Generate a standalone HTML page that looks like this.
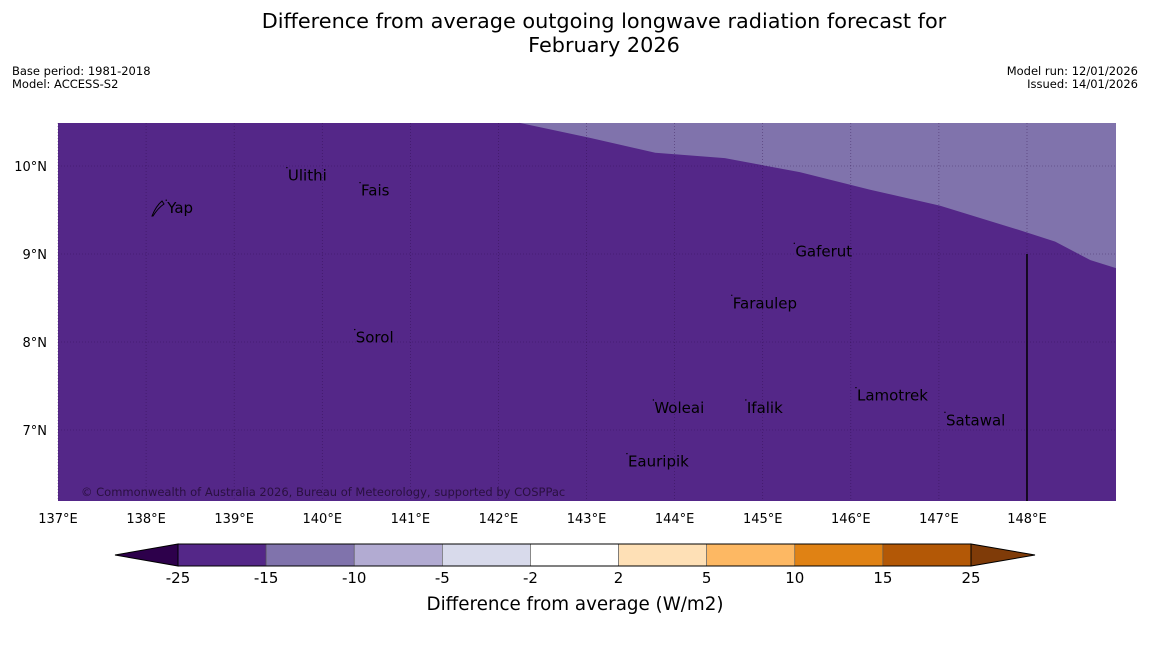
<!DOCTYPE html>
<html><head><meta charset="utf-8">
<style>
body{margin:0;background:#fff;font-family:"Liberation Sans","DejaVu Sans",sans-serif;}
svg text{font-family:"DejaVu Sans","Liberation Sans",sans-serif;}
</style></head>
<body>
<svg id="c" width="1150" height="644" xmlns="http://www.w3.org/2000/svg">
<text x="604" y="28" text-anchor="middle" font-size="20.8">Difference from average outgoing longwave radiation forecast for</text>
<text x="604" y="52" text-anchor="middle" font-size="20.8">February 2026</text>
<text x="12" y="75" font-size="11.5">Base period: 1981-2018</text>
<text x="12" y="88" font-size="11.5">Model: ACCESS-S2</text>
<text x="1138" y="75" font-size="11.5" text-anchor="end">Model run: 12/01/2026</text>
<text x="1138" y="88" font-size="11.5" text-anchor="end">Issued: 14/01/2026</text>
<g id="map"></g>
<g id="cbar"></g>
<text x="575" y="610" text-anchor="middle" font-size="18.3">Difference from average (W/m2)</text>
</svg>
<script>
const lonTicks=[137,138,139,140,141,142,143,144,145,146,147,148];
const latTicks=[7,8,9,10];
const boundLon=[142.24,143.04,143.78,144.57,145.42,146.22,147.01,147.92,148.32,148.72,149.01];
const boundLat=[10.49,10.32,10.15,10.09,9.93,9.73,9.55,9.27,9.14,8.93,8.84];
const places=["Yap","Ulithi","Fais","Gaferut","Faraulep","Sorol","Woleai","Ifalik","Lamotrek","Satawal","Eauripik"];
const placeLon=[138.24,139.61,140.44,145.37,144.66,140.38,143.77,144.82,146.07,147.08,143.47];
const placeLat=[9.52,9.89,9.72,9.03,8.44,8.05,7.25,7.25,7.39,7.11,6.64];
const cbLevels=[-25,-15,-10,-5,-2,2,5,10,15,25];
const cbColors=["#542788","#8073ac","#b2abd2","#d8daeb","#ffffff","#fee0b6","#fdb863","#e08214","#b35806"];
const cbUnder="#2d004b", cbOver="#7f3b08";

const NS="http://www.w3.org/2000/svg";
const X0=58,X1=1116,Y0=123,Y1=501;
const lonMin=137,lonMax=137+(X1-X0)/88.09;
const latMax=10+(166-Y0)/88,latMin=10-(Y1-166)/88;
const xs=l=>X0+(l-lonMin)/(lonMax-lonMin)*(X1-X0);
const ys=l=>Y0+(latMax-l)/(latMax-latMin)*(Y1-Y0);
function mk(p,t,a){const e=document.createElementNS(NS,t);for(const k in a)e.setAttribute(k,a[k]);p.appendChild(e);return e;}
const map=document.getElementById('map');
let r=mk(map,'rect',{x:X0,y:Y0,width:X1-X0,height:Y1-Y0,fill:'#542788'});


let d='M'+xs(boundLon[0])+','+Y0;
for(let i=0;i<boundLon.length;i++)d+=' L'+xs(boundLon[i])+','+ys(boundLat[i]);
d+=' L'+X1+','+Y0+' Z';
let p=mk(map,'path',{d:d,fill:'#8073ac'});


lonTicks.forEach(l=>{
  const x=xs(l);
  let g=mk(map,'line',{x1:x,x2:x,y1:Y0,y2:Y1,stroke:'#2a0a45','stroke-width':0.6,'stroke-dasharray':'1,2','stroke-opacity':0.6});
  
  
  let t=mk(map,'text',{x:x,y:523,'text-anchor':'middle','font-size':13});
  t.textContent=l+'°E';
  
  
});
latTicks.forEach(l=>{
  const y=ys(l);
  let g=mk(map,'line',{x1:X0,x2:X1,y1:y,y2:y,stroke:'#2a0a45','stroke-width':0.6,'stroke-dasharray':'1,2','stroke-opacity':0.6});
  
  
  let t=mk(map,'text',{x:47,y:y+5,'text-anchor':'end','font-size':13});
  t.textContent=l+'°N';
  
  
});
let vl=mk(map,'line',{x1:xs(148),x2:xs(148),y1:ys(9),y2:Y1,stroke:'#000','stroke-width':1.5});


places.forEach((n,i)=>{
  const x=xs(placeLon[i]),y=ys(placeLat[i]);
  let dot=mk(map,'circle',{cx:x-1,cy:y-8,r:0.7,fill:'#000'});
  
  
  let t=mk(map,'text',{x:x,y:y+5,'font-size':15});
  t.textContent=n;
  
  
});
let yi=mk(map,'path',{d:'M152,216 Q156,206 162,201 L164,204 Q158,208 153,216 Z',fill:'none',stroke:'#000','stroke-width':1});


let cp=mk(map,'text',{x:81,y:496,'font-size':11.5,fill:'#2a1040'});
cp.textContent='© Commonwealth of Australia 2026, Bureau of Meteorology, supported by COSPPac';



const cb=document.getElementById('cbar');
const CX0=178,CX1=971,CY0=544,CY1=566;
const seg=(CX1-CX0)/cbColors.length;
let ut=mk(cb,'polygon',{points:`${CX0},${CY0} ${CX0},${CY1} 115,${(CY0+CY1)/2}`,fill:cbUnder,stroke:'#000','stroke-width':1});


let ot=mk(cb,'polygon',{points:`${CX1},${CY0} ${CX1},${CY1} 1035,${(CY0+CY1)/2}`,fill:cbOver,stroke:'#000','stroke-width':1});


cbColors.forEach((c,i)=>{
  let b=mk(cb,'rect',{x:CX0+i*seg,y:CY0,width:seg,height:CY1-CY0,fill:c,stroke:'#555','stroke-width':0.6});
  
  
});
let fr=mk(cb,'rect',{x:CX0,y:CY0,width:CX1-CX0,height:CY1-CY0,fill:'none',stroke:'#000','stroke-width':1});


cbLevels.forEach((v,i)=>{
  let t=mk(cb,'text',{x:CX0+i*seg,y:583,'text-anchor':'middle','font-size':15});
  t.textContent=v;
  
  
});
</script>
</body></html>
